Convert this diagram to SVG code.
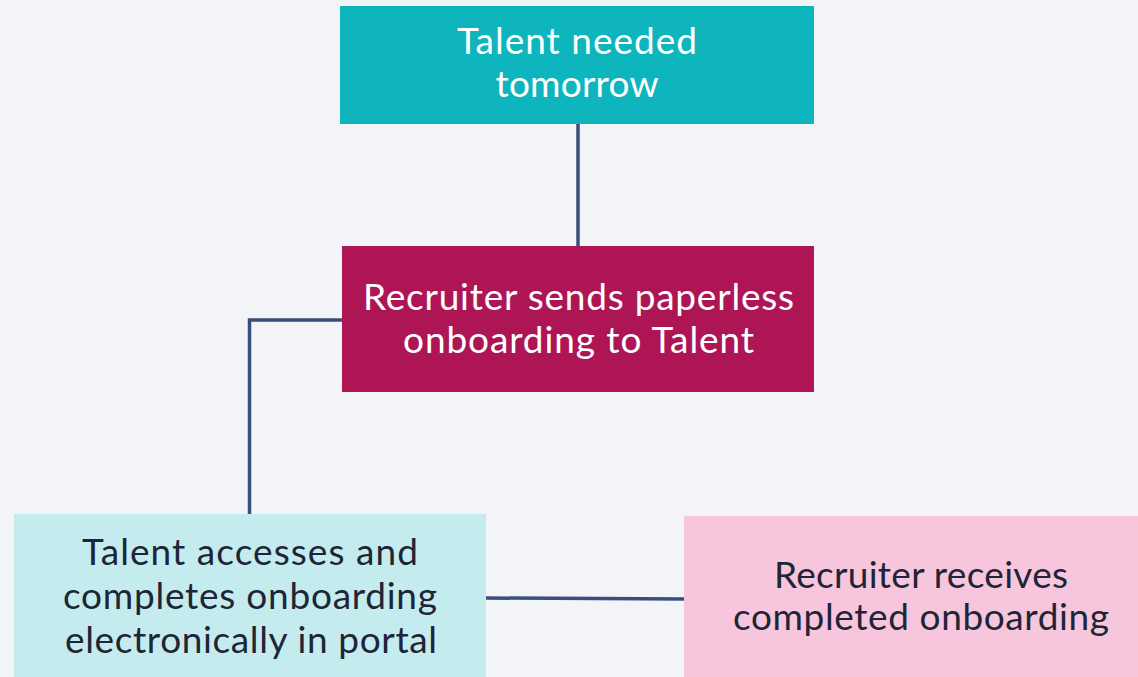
<svg xmlns="http://www.w3.org/2000/svg" width="1138" height="677" viewBox="0 0 1138 677">
  <style>
    .bg { fill: #f2f4f8; }
    .link { fill: none; stroke: #3b4e7b; stroke-width: 3.5; }
    .lbl { font-family: Lato, "Open Sans", sans-serif; font-size: 37px; text-anchor: middle; }
    .light { fill: #ffffff; }
    .dark { fill: #1e2537; }
  </style>
  <rect class="bg" x="0" y="0" width="1138" height="677"/>

  <g id="connectors">
    <line class="link" x1="578" y1="122" x2="578" y2="248"/>
    <polyline class="link" points="344,320 249.5,320 249.5,516"/>
    <line class="link" x1="484" y1="598" x2="686" y2="599"/>
  </g>

  <g id="talent-needed">
    <rect x="340" y="6" width="474" height="118" fill="#0fb5bd"/>
    <text class="lbl light" x="577" y="54" textLength="240" lengthAdjust="spacing">Talent needed</text>
    <text class="lbl light" x="577" y="97" textLength="163" lengthAdjust="spacing">tomorrow</text>
  </g>

  <g id="recruiter-sends">
    <rect x="342" y="246" width="472" height="146" fill="#ad1554"/>
    <text class="lbl light" x="578.5" y="310" textLength="431" lengthAdjust="spacing">Recruiter sends paperless</text>
    <text class="lbl light" x="578.5" y="353" textLength="351" lengthAdjust="spacing">onboarding to Talent</text>
  </g>

  <g id="talent-completes">
    <rect x="14" y="514" width="472" height="163" fill="#c4ecee"/>
    <text class="lbl dark" x="250" y="565" textLength="336" lengthAdjust="spacing">Talent accesses and</text>
    <text class="lbl dark" x="250" y="609" textLength="374" lengthAdjust="spacing">completes onboarding</text>
    <text class="lbl dark" x="251" y="653" textLength="372" lengthAdjust="spacing">electronically in portal</text>
  </g>

  <g id="recruiter-receives">
    <rect x="684" y="516" width="454" height="161" fill="#f7c5dc"/>
    <text class="lbl dark" x="921" y="588" textLength="294" lengthAdjust="spacing">Recruiter receives</text>
    <text class="lbl dark" x="921" y="630" textLength="376" lengthAdjust="spacing">completed onboarding</text>
  </g>
</svg>
